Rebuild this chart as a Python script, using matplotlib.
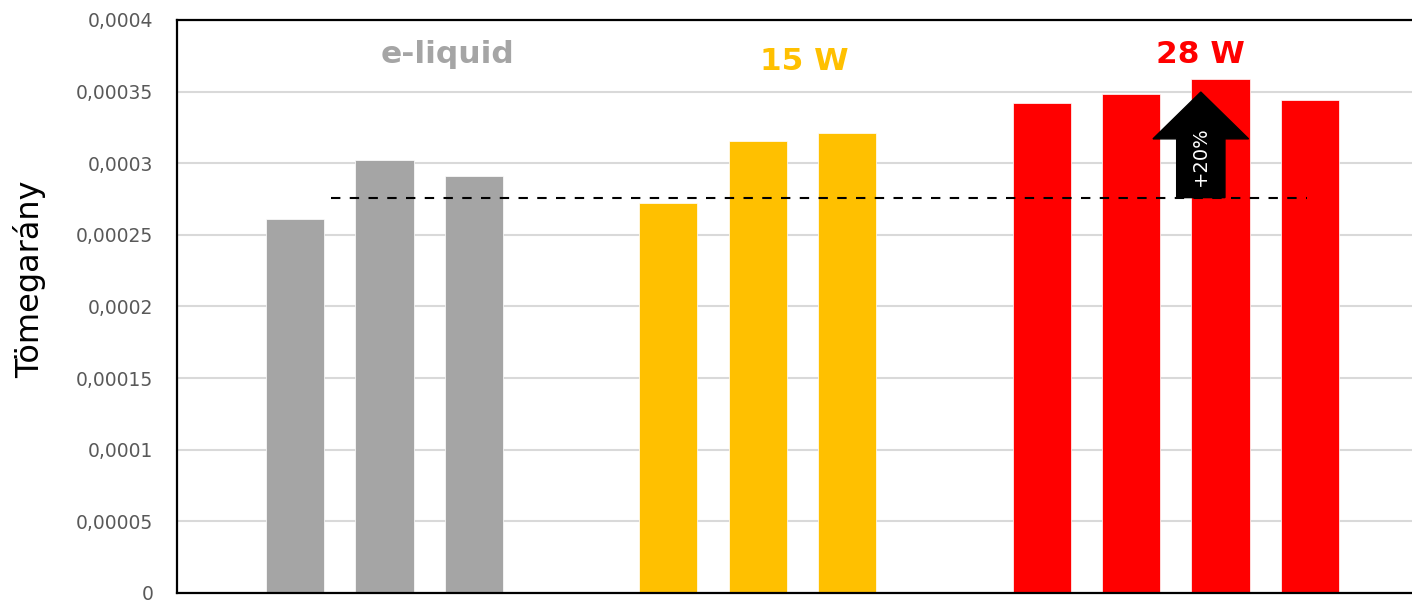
import matplotlib.pyplot as plt
import numpy as np

# adatok
groups = ['e-liquid', '15 W', '28 W']
colors = ['#A5A5A5', '#FFC000', '#FF0000']
eliquid = [0.000261, 0.000302, 0.000291]
w15 = [0.000272, 0.0003155, 0.000321]
w28 = [0.000342, 0.000348, 0.000359, 0.000344]
ref_value = 0.000276
ylabel = 'Tömegarány'
arrow_text = '+20%'

series = [eliquid, w15, w28]

fig = plt.figure(figsize=(14.12, 6), dpi=100)
ax = fig.add_axes([0.1254, 0.0117, 0.877, 0.955])

group_step = 4.175
bar_w = 0.65
for g, vals in enumerate(series):
    x = g * group_step + np.arange(len(vals))
    ax.bar(x, vals, width=bar_w, color=colors[g], edgecolor='white', linewidth=0.5, zorder=2)

# felirat csoportonként
label_pos = [(1.70, 0.0003756), (5.69, 0.0003707), (10.13, 0.0003756)]
for g, name in enumerate(groups):
    ax.text(label_pos[g][0], label_pos[g][1], name, color=colors[g], fontsize=22.5,
            fontweight='heavy', ha='center', va='center', zorder=5)

# szaggatott referencia vonal
ax.plot([0.40, 11.32], [ref_value, ref_value], color='black', linestyle=(0, (4.5, 4.5)),
        linewidth=1.5, zorder=4)

# nyil
ax_x = 10.13
ax.arrow(ax_x, ref_value, 0, 0.0003497 - ref_value, width=0.54, head_width=1.07,
         head_length=0.0003497 - 0.000317, length_includes_head=True,
         color='black', zorder=4)
ax.text(ax_x, 0.000305, arrow_text, rotation=90, color='white', fontsize=14,
        ha='center', va='center', zorder=5)

ax.set_xlim(-1.32, 12.53)
ax.set_ylim(0, 0.0004)
yt = np.arange(0, 0.00040001, 0.00005)
ax.set_yticks(yt)
labels = []
for v in yt:
    s = f'{v:.5f}'.rstrip('0').rstrip('.')
    labels.append(s.replace('.', ','))
ax.set_yticklabels(labels)
ax.tick_params(axis='y', length=0, pad=17, labelsize=13.5, labelcolor='#595959')
ax.set_xticks([])
ax.grid(axis='y', color='#D9D9D9', linewidth=1.5, zorder=0)
ax.set_axisbelow(True)
for sp in ['left', 'top', 'bottom']:
    ax.spines[sp].set_linewidth(1.6)
    ax.spines[sp].set_color('black')
ax.spines['right'].set_visible(False)

fig.text(0.021, 0.535, ylabel, rotation=90, fontsize=23, ha='center', va='center', color='black')

fig.savefig('out.png', dpi=100)
